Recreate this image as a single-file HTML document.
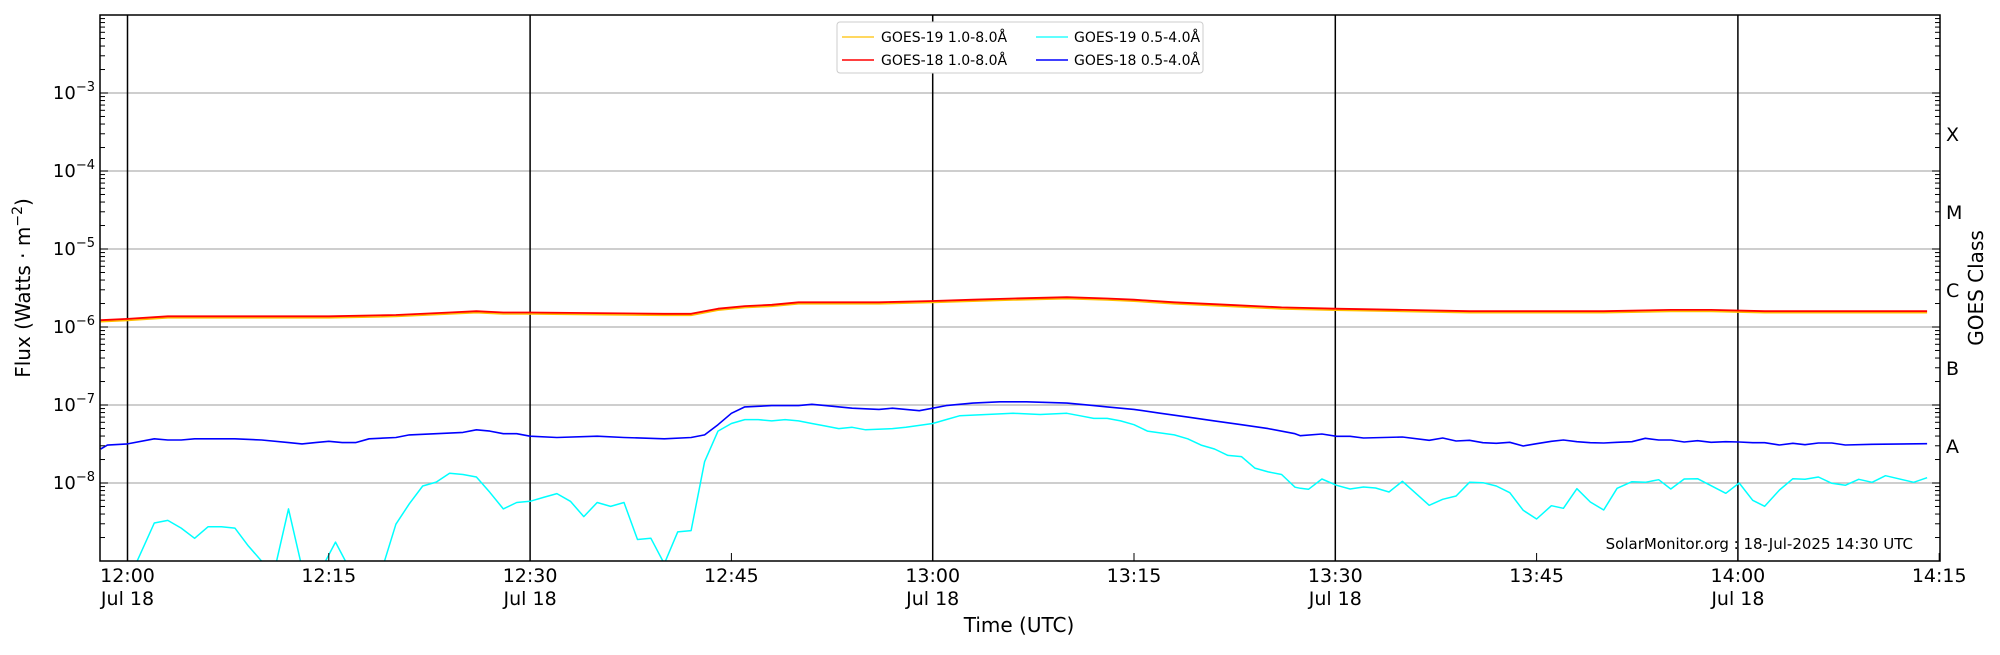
<!DOCTYPE html>
<html><head><meta charset="utf-8"><style>
html,body{margin:0;padding:0;background:#fff}
svg text{font-family:"DejaVu Sans","Liberation Sans",sans-serif}
</style></head><body>
<svg id="s" width="2000" height="650" xmlns="http://www.w3.org/2000/svg">
<defs><clipPath id="c"><rect x="100" y="15" width="1840" height="546"/></clipPath></defs>
<g id="grid"></g>
<g id="data" clip-path="url(#c)"></g>
<rect x="100" y="15" width="1840" height="546" fill="none" stroke="#000" stroke-width="1.5"/>
<g id="ticks"></g>
<g id="labels" font-size="19" fill="#000"></g>
<text x="0" y="0" font-size="20" text-anchor="middle" transform="translate(30,288) rotate(-90)">Flux (Watts · m<tspan dy="-8" font-size="14">−2</tspan><tspan dy="8">)</tspan></text>
<text x="0" y="0" font-size="20" text-anchor="middle" transform="translate(1983,288) rotate(-90)">GOES Class</text>
<text x="1019" y="632" font-size="20" text-anchor="middle">Time (UTC)</text>
<text x="1913" y="549" font-size="15" text-anchor="end">SolarMonitor.org : 18-Jul-2025 14:30 UTC</text>
<g>
<rect x="837" y="22" width="366" height="51" fill="#fff" stroke="#ccc" rx="3"/>
<line x1="842" y1="37" x2="874" y2="37" stroke="#ffc000" stroke-width="1.2"/>
<text x="881" y="42" font-size="14">GOES-19 1.0-8.0Å</text>
<line x1="842" y1="60" x2="874" y2="60" stroke="#ff0000" stroke-width="1.5"/>
<text x="881" y="65" font-size="14">GOES-18 1.0-8.0Å</text>
<line x1="1036" y1="37" x2="1068" y2="37" stroke="#00ffff" stroke-width="1.2"/>
<text x="1074" y="42" font-size="14">GOES-19 0.5-4.0Å</text>
<line x1="1036" y1="60" x2="1068" y2="60" stroke="#0000ff" stroke-width="1.5"/>
<text x="1074" y="65" font-size="14">GOES-18 0.5-4.0Å</text>
</g>
</svg>
<script>
var NS="http://www.w3.org/2000/svg";
function el(p,t,a,txt){var e=document.createElementNS(NS,t);for(var k in a)e.setAttribute(k,a[k]);if(txt!==undefined)e.textContent=txt;document.getElementById(p).appendChild(e);return e;}
function X(m){return 127.5+m*13.42;}
function Yv(v){return 15+(-2-Math.log10(v))*78;}
for(var d=-8;d<=-3;d++){var y=Yv(Math.pow(10,d));el("grid","line",{x1:100,x2:1940,y1:y,y2:y,stroke:"#b0b0b0","stroke-width":1.2});}
[0,30,60,90,120].forEach(function(m){el("grid","line",{x1:X(m),x2:X(m),y1:15,y2:561,stroke:"#000","stroke-width":1.5});});
for(var d=-9;d<-2;d++){for(var k=1;k<10;k++){var y=Yv(k*Math.pow(10,d));if(y<15||y>561)continue;var L=k==1?8:5;
el("ticks","line",{x1:100,x2:100+L,y1:y,y2:y,stroke:"#000","stroke-width":1});
el("ticks","line",{x1:1940,x2:1940-L,y1:y,y2:y,stroke:"#000","stroke-width":1});}}
[15,45,75,105,135].forEach(function(m){el("ticks","line",{x1:X(m),x2:X(m),y1:561,y2:553,stroke:"#000","stroke-width":1});});
for(var d=-8;d<=-3;d++){var y=Yv(Math.pow(10,d));var t=el("labels","text",{x:95,y:y+6,"text-anchor":"end","font-size":18},"10");
var ts=document.createElementNS(NS,"tspan");ts.setAttribute("dy","-8");ts.setAttribute("font-size","13");ts.textContent="−"+(-d);t.appendChild(ts);}
var cls=["X","M","C","B","A"];cls.forEach(function(c,i){el("labels","text",{x:1946,y:141+i*78},c);});
var xl=[[0,"12:00",1],[15,"12:15",0],[30,"12:30",1],[45,"12:45",0],[60,"13:00",1],[75,"13:15",0],[90,"13:30",1],[105,"13:45",0],[120,"14:00",1],[135,"14:15",0]];
xl.forEach(function(a){var x=X(a[0]);el("labels","text",{x:x,y:582,"text-anchor":"middle"},a[1]);if(a[2])el("labels","text",{x:x,y:605,"text-anchor":"middle"},"Jul 18");});
function line(pts,col,w,dy){var s=pts.map(function(p){return X(p[0]).toFixed(1)+","+(p[1]*1.2755+(dy||0)).toFixed(1);}).join(" ");
el("data","polyline",{points:s,fill:"none",stroke:col,"stroke-width":w,"stroke-linejoin":"round"});}
function act(a){return a.map(function(p){return [p[0],p[1]/1.2755];});}
var red=[[-2,251],[0,250],[3,248],[8,248],[15,248],[20,247],[24,245],[26,244],[28,245],[30,245],[40,246],[42,246],[44,242],[46,240],[48,239],[50,237],[52,237],[56,237],[60,236],[63,235],[66,234],[70,233],[73,234],[75,235],[78,237],[82,239],[86,241],[90,242],[95,243],[100,244],[105,244],[110,244],[115,243],[118,243],[122,244],[130,244],[134.1,244]];
var blue=[[-2,352],[-1.5,349],[0,348],[2,344],[3,345],[4,345],[5,344],[6,344],[8,344],[10,345],[12,347],[13,348],[14,347],[15,346],[16,347],[17,347],[18,344],[20,343],[21,341],[23,340],[25,339],[26,337],[27,338],[28,340],[29,340],[30,342],[32,343],[35,342],[37,343],[40,344],[42,343],[43,341],[44,333],[45,324],[46,319],[48,318],[50,318],[51,317],[52,318],[54,320],[56,321],[57,320],[59,322],[60,320],[61,318],[63,316],[65,315],[67,315],[70,316],[72,318],[73,319],[75,321],[77,324],[79,327],[81,330],[83,333],[85,336],[87,340]].concat(act(
[[87.4,435.7],[89,434],[90.1,436.3],[91.1,436.3],[92.1,438],[95,437],[97,440.3],[98,438],[99,441],[100,440.3],[101,442.7],[102,443.3],[103,442.3],[104,446],[105,443.7],[106.1,441.3],[107,440],[108,441.7],[109,442.7],[110,443],[111,442.3],[112.1,441.7],[113.1,438.3],[114.1,440],[115,440],[116,442],[117,440.7],[118,442.3],[119.1,441.7],[120.1,442],[121.1,442.7],[122,442.7],[123.1,445],[124.1,443.3],[125,444.7],[126,443],[127,443],[128,445],[130,444.3],[134.1,443.7]]));
var cyan=[[-2,445],[0.5,445],[2,410],[3,408],[4,414],[5,422],[6,413],[7,413],[8,414],[9,428],[10,440],[10.5,445],[11,445],[12,399],[13,445],[14.5,445],[15.5,425],[16.5,445],[19,445],[20,411],[21,395],[22,381],[23,378],[24,371],[25,372],[26,374],[27,386],[28,399],[29,394],[30,393],[31,390],[32,387],[33,393],[34,405],[35,394],[36,397],[37,394],[38,423],[39,422],[40,442],[41,417],[42,416],[43,362],[44,338],[45,332],[46,329],[47,329],[48,330],[49,329],[50,330],[51,332],[52,334],[53,336],[54,335],[55,337],[57,336],[58,335],[60,332],[61,329],[62,326],[64,325],[66,324],[68,325],[70,324],[71,326],[72,328],[73,328],[74,330],[75,333],[76,338],[78,341],[79,344],[80,349],[81,352],[82,357],[83,358],[84,367],[85,370],[86,372],[87,382]].concat(act(
[[87.4,488.3],[88,489.3],[89,479],[90.1,485.3],[91.1,489],[92.1,487],[93,488],[94,492],[95,481.3],[97,505.3],[98,499.3],[99,496],[100,482.3],[101,482.7],[102,486],[103,492.7],[104,510.3],[105,519],[106.1,505.7],[107,508.3],[108,488.7],[109,502],[110,510],[111,488.3],[112.1,481.7],[113.1,482.3],[114.1,479.7],[115,489],[116,479],[117,478.7],[119.1,493.3],[120.1,483],[121.1,500.3],[122,506.3],[123.1,490],[124.1,478.7],[125,479.3],[126,477],[127,483.3],[128,485.3],[129,479.3],[130,482.3],[131,475.7],[133.1,482.3],[134.1,477.7]]));
line(cyan,"#00ffff",1.5);
line(blue,"#0000ff",1.6);
line(red,"#ffc000",1.6,1.5);
line(red,"#ff0000",1.8);
</script>
</body></html>
